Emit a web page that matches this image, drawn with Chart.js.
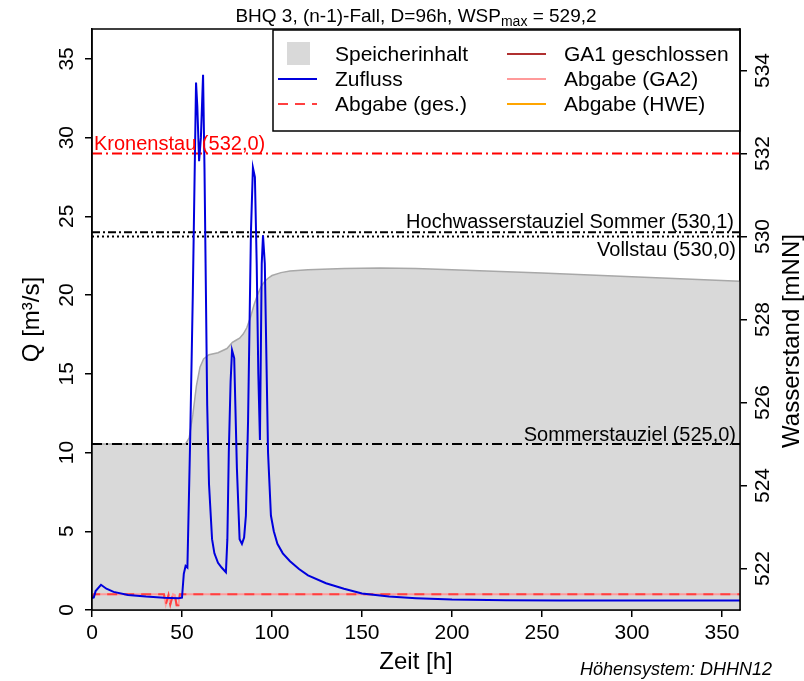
<!DOCTYPE html>
<html>
<head>
<meta charset="utf-8">
<script src="https://cdn.jsdelivr.net/npm/chart.js@4.4.0/dist/chart.umd.min.js"></script>
<style>
  html, body { margin: 0; padding: 0; background: #fff; }
  canvas { display: block; }
</style>
</head>
<body>
<canvas id="myChart" width="804" height="681"></canvas>
<script>
// Zufluss [m³/s] ueber Zeit [h]
const zuflussZeit = [0, 1, 2, 5, 8, 12, 20, 30, 40, 48, 50, 51, 52, 53, 54.5, 56, 57.8, 58.5, 59.5, 60.5, 61.7, 62.5, 63.3, 64, 65, 66.7, 68, 70, 72, 74.4, 75.2, 76, 77, 77.8, 79, 80.5, 82, 83.3, 84.5, 85.5, 86.7, 88.3, 89.4, 90.5, 91.5, 92.4, 93.3, 94.3, 95, 96, 97.8, 99.4, 101, 103, 106, 110, 115, 120, 130, 140, 150, 165, 180, 200, 230, 260, 300, 360];
const zuflussQ    = [0.75, 0.8, 1.2, 1.6, 1.35, 1.15, 0.95, 0.85, 0.78, 0.75, 0.78, 2.3, 2.8, 2.7, 10.6, 20, 33.5, 32, 28.5, 30, 34, 28, 20, 13, 8, 4.5, 3.6, 3.0, 2.7, 2.4, 4.5, 10, 14.5, 16.5, 16, 9, 4.5, 4.2, 4.6, 6, 12, 24, 28.1, 27.5, 22, 15, 10.8, 22, 23.8, 22, 10, 6, 5, 4.2, 3.6, 3.1, 2.6, 2.2, 1.7, 1.35, 1.05, 0.85, 0.75, 0.66, 0.62, 0.6, 0.6, 0.6];

// Abgabe gesamt / GA2 [m³/s]
const abgabeZeit = [0, 1, 40, 41, 42.5, 43.5, 45, 46, 47, 48, 48.8, 360];
const abgabeQ    = [0.8, 1.0, 1.0, 0.35, 0.95, 0.35, 1.0, 0.95, 0.3, 0.3, 1.0, 1.0];

// Wasserstand im Speicher [mNN]
const speicherZeit = [0, 52, 54, 56, 58, 60, 62, 65, 70, 75, 78, 80, 82, 84, 86, 88, 90, 92, 94, 96, 98, 100, 105, 110, 120, 140, 160, 180, 200, 250, 300, 360];
const speicherWsp  = [525.0, 525.0, 525.15, 525.7, 526.4, 526.85, 527.05, 527.15, 527.2, 527.3, 527.45, 527.5, 527.55, 527.65, 527.8, 528.05, 528.35, 528.6, 528.8, 528.92, 529.0, 529.06, 529.13, 529.17, 529.2, 529.23, 529.24, 529.23, 529.2, 529.12, 529.03, 528.92];

// Stauziele
const stauNamen = ['Kronenstau (532,0)', 'Hochwasserstauziel Sommer (530,1)', 'Vollstau (530,0)', 'Sommerstauziel (525,0)'];
const stauWerte = [532.0, 530.1, 530.0, 525.0];

// Achsen
const zeitTicks = [0, 50, 100, 150, 200, 250, 300, 350];
const qTicks = [0, 5, 10, 15, 20, 25, 30, 35];
const wspTicks = [522, 524, 526, 528, 530, 532, 534];

const FAM = '"Liberation Sans", Arial, sans-serif';
const f = (size, style) => (style ? style + ' ' : '') + size + 'px ' + FAM;

const pts = (xs, ys) => xs.map((x, i) => ({ x: x, y: ys[i] }));
const hline = v => [{ x: 0, y: v }, { x: 360, y: v }];

const stauStil = [
  { color: '#ff0000', dash: [10, 4, 2, 4] },
  { color: '#000000', dash: [8, 3, 2, 3] },
  { color: '#000000', dash: [2, 3] },
  { color: '#000000', dash: [10, 4, 2, 4] }
];

const datasets = [
  { label: 'Zufluss', data: pts(zuflussZeit, zuflussQ), yAxisID: 'y', borderColor: '#0000dd', borderWidth: 2, legend: 'line' },
  { label: 'Abgabe (ges.)', data: pts(abgabeZeit, abgabeQ), yAxisID: 'y', borderColor: '#ff4040', borderWidth: 2, borderDash: [10, 7], legend: 'line' },
  { label: 'Abgabe (GA2)', data: pts(abgabeZeit, abgabeQ), yAxisID: 'y', borderColor: '#ff9a9a', borderWidth: 2, legend: 'line' },
  { label: 'GA1 geschlossen', data: [], yAxisID: 'y', borderColor: '#b03030', borderWidth: 2, legend: 'line' },
  { label: 'Abgabe (HWE)', data: [], yAxisID: 'y', borderColor: '#ffa500', borderWidth: 2, legend: 'line' }
];
stauWerte.forEach((v, i) => {
  datasets.push({ label: stauNamen[i], data: hline(v), yAxisID: 'y2', borderColor: stauStil[i].color, borderWidth: 2, borderDash: stauStil[i].dash });
});
datasets.push({ label: 'Speicherinhalt', data: pts(speicherZeit, speicherWsp), yAxisID: 'y2', borderColor: '#a8a8a8', borderWidth: 1.5, backgroundColor: '#d9d9d9', fill: 'start', legend: 'box' });

const legendOrder = ['Speicherinhalt', 'Zufluss', 'Abgabe (ges.)', 'GA1 geschlossen', 'Abgabe (GA2)', 'Abgabe (HWE)'];

function rotText(ctx, txt, x, y, size) {
  ctx.save();
  ctx.translate(x, y);
  ctx.rotate(-Math.PI / 2);
  ctx.textAlign = 'center';
  ctx.textBaseline = 'alphabetic';
  ctx.fillText(txt, 0, size * 0.36);
  ctx.restore();
}

const extras = {
  id: 'extras',
  afterDatasetsDraw(chart) {
    const { ctx, chartArea: a, scales } = chart;
    const y2 = scales.y2;
    ctx.save();

    // Beschriftung Stauziele
    ctx.font = f(20);
    ctx.fillStyle = '#ff0000';
    ctx.textAlign = 'left';
    ctx.textBaseline = 'alphabetic';
    ctx.fillText(stauNamen[0], a.left + 2, y2.getPixelForValue(stauWerte[0]) - 4);
    ctx.fillStyle = '#000';
    ctx.textAlign = 'right';
    ctx.fillText(stauNamen[1], a.right - 6, y2.getPixelForValue(stauWerte[1]) - 4);
    ctx.fillText(stauNamen[2], a.right - 4, y2.getPixelForValue(stauWerte[2]) + 19);
    ctx.fillText(stauNamen[3], a.right - 4, y2.getPixelForValue(stauWerte[3]) - 3);

    // Legende
    const lx = 273, ly = a.top + 1, lw = a.right - lx, lh = 101;
    ctx.fillStyle = '#fff';
    ctx.fillRect(lx, ly, lw, lh);
    ctx.strokeStyle = '#000';
    ctx.lineWidth = 1.5;
    ctx.strokeRect(lx, ly, lw, lh);
    ctx.font = f(21);
    ctx.textAlign = 'left';
    legendOrder.forEach((name, i) => {
      const ds = chart.data.datasets.find(d => d.label === name);
      const col = Math.floor(i / 3), row = i % 3;
      const x0 = lx + 5 + col * 229;
      const yc = ly + 24 + row * 25;
      if (ds.legend === 'box') {
        ctx.fillStyle = ds.backgroundColor;
        ctx.fillRect(x0 + 9, yc - 12, 23, 23);
      } else {
        ctx.strokeStyle = ds.borderColor;
        ctx.lineWidth = 2;
        ctx.setLineDash(ds.borderDash || []);
        ctx.beginPath();
        ctx.moveTo(x0, yc);
        ctx.lineTo(x0 + 39, yc);
        ctx.stroke();
        ctx.setLineDash([]);
      }
      ctx.fillStyle = '#000';
      ctx.fillText(name, x0 + 57, yc + 7);
    });

    // Rahmen
    ctx.strokeStyle = '#000';
    ctx.lineWidth = 1.5;
    ctx.strokeRect(a.left, a.top, a.right - a.left, a.bottom - a.top);
    ctx.restore();
  },
  afterDraw(chart) {
    const { ctx, chartArea: a, scales } = chart;
    ctx.save();
    ctx.fillStyle = '#000';

    // Tick-Beschriftungen der Hochachsen (gedreht)
    ctx.font = f(21);
    scales.y.ticks.forEach(t => rotText(ctx, String(t.value), 65, scales.y.getPixelForValue(t.value), 21));
    scales.y2.ticks.forEach(t => rotText(ctx, String(t.value), 761, scales.y2.getPixelForValue(t.value), 21));

    // Achsentitel
    ctx.font = f(24);
    rotText(ctx, 'Q [m³/s]', 30, (a.top + a.bottom) / 2, 24);
    rotText(ctx, 'Wasserstand [mNN]', 790, 341, 24);
    ctx.textAlign = 'center';
    ctx.fillText('Zeit [h]', (a.left + a.right) / 2, 669);

    // Titel
    const p1 = 'BHQ 3, (n-1)-Fall, D=96h, WSP', p2 = 'max', p3 = ' = 529,2';
    ctx.textAlign = 'left';
    ctx.font = f(19); const w1 = ctx.measureText(p1).width, w3 = ctx.measureText(p3).width;
    ctx.font = f(14); const w2 = ctx.measureText(p2).width;
    let x = (a.left + a.right) / 2 - (w1 + w2 + w3) / 2;
    ctx.font = f(19); ctx.fillText(p1, x, 22); x += w1;
    ctx.font = f(14); ctx.fillText(p2, x, 26); x += w2;
    ctx.font = f(19); ctx.fillText(p3, x, 22);

    // Hoehensystem
    ctx.font = f(18, 'italic');
    ctx.textAlign = 'right';
    ctx.fillText('Höhensystem: DHHN12', 772, 675);
    ctx.restore();
  }
};

const axisGrid = { drawOnChartArea: false, drawTicks: true, tickLength: 7, color: '#000', lineWidth: 1.5 };
const axisBorder = { display: true, color: '#000', width: 1.5 };

new Chart(document.getElementById('myChart'), {
  type: 'line',
  data: { datasets: datasets },
  options: {
    responsive: false,
    animation: false,
    devicePixelRatio: 1,
    elements: { point: { radius: 0 }, line: { tension: 0 } },
    layout: { padding: { top: 29, left: 0, right: 0, bottom: 0 } },
    plugins: { legend: { display: false }, tooltip: { enabled: false }, title: { display: false } },
    scales: {
      x: {
        type: 'linear', position: 'bottom', min: 0, max: 360,
        afterBuildTicks: s => { s.ticks = zeitTicks.map(v => ({ value: v })); },
        afterFit: s => { s.height = 71; },
        grid: axisGrid, border: axisBorder,
        ticks: { color: '#000', font: { family: FAM, size: 21 }, padding: 4, maxRotation: 0, autoSkip: false }
      },
      y: {
        type: 'linear', position: 'left', min: 0, max: 36.9,
        afterBuildTicks: s => { s.ticks = qTicks.map(v => ({ value: v })); },
        afterFit: s => { s.width = 92; },
        grid: axisGrid, border: axisBorder,
        ticks: { color: 'rgba(0,0,0,0)', autoSkip: false }
      },
      y2: {
        type: 'linear', position: 'right', min: 521, max: 535,
        afterBuildTicks: s => { s.ticks = wspTicks.map(v => ({ value: v })); },
        afterFit: s => { s.width = 64; },
        grid: axisGrid, border: axisBorder,
        ticks: { color: 'rgba(0,0,0,0)', autoSkip: false }
      }
    }
  },
  plugins: [extras]
});
</script>
</body>
</html>
